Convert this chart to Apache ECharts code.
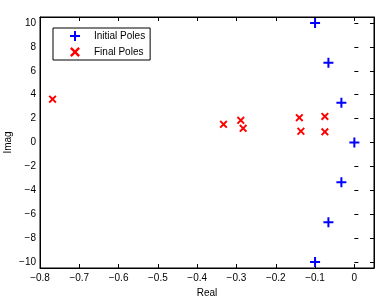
<!DOCTYPE html>
<html>
<head>
<meta charset="utf-8">
<script src="https://cdn.jsdelivr.net/npm/echarts@6/dist/echarts.min.js"></script>
<style>
  html, body { margin: 0; padding: 0; background: #fff; }
  #chart { width: 380px; height: 296px; }
</style>
</head>
<body>
<div id="chart"></div>
<script>
const initialReal = [-0.1, -0.066, -0.033, 0.0, -0.033, -0.066, -0.1]
const initialImag = [10, 6.67, 3.33, 0, -3.33, -6.67, -10]
const finalReal = [-0.768, -0.333, -0.289, -0.283, -0.14, -0.136, -0.075, -0.075]
const finalImag = [3.62, 1.52, 1.86, 1.19, 2.08, 0.94, 2.18, 0.89]
const xTicks = [-0.8, -0.7, -0.6, -0.5, -0.4, -0.3, -0.2, -0.1, 0]
const yTicks = [-10, -8, -6, -4, -2, 0, 2, 4, 6, 8, 10]

const plusPath = "path://M4,0H6V4H10V6H6V10H4V6H0V4H4Z"
const crossPath = "path://M0,1.7L1.7,0L5,3.3L8.3,0L10,1.7L6.7,5L10,8.3L8.3,10L5,6.7L1.7,10L0,8.3L3.3,5Z"
const font = "Liberation Sans"

// plot box and the y range the ticks span (data range is padded by 0.5)
const plotTop = 17, plotBottom = 28, yPad = 0.5
const pxPerUnit = (296 - plotTop - plotBottom) / (20 + 2 * yPad)

function fmtX(v) {
  const t = xTicks.find(k => Math.abs(k - v) < 1e-9)
  if (t === undefined) return ""
  return t === 0 ? "0" : String(t).replace("-", "\u2212")
}
function fmtY(v) {
  const t = yTicks.find(k => Math.abs(k - v) < 1e-9)
  if (t === undefined) return ""
  return String(t).replace("-", "\u2212")
}

const tick = { show: true, inside: true, length: 4, lineStyle: { color: "#000" } }
const line = { show: true, onZero: false, lineStyle: { color: "#000", width: 1 } }
const labelStyle = { fontFamily: font, fontSize: 10, color: "#000" }

const chart = echarts.init(document.getElementById("chart"))
chart.setOption({
  animation: false,
  backgroundColor: "#fff",
  grid: [
    { left: 40, right: 6, top: plotTop, bottom: plotBottom, show: true, borderColor: "#000", borderWidth: 1, outerBoundsMode: "none" },
    { left: 40, right: 6, top: plotTop + yPad * pxPerUnit, bottom: plotBottom + yPad * pxPerUnit, outerBoundsMode: "none" }
  ],
  legend: {
    orient: "vertical",
    left: 53,
    top: 28,
    borderColor: "#000",
    borderWidth: 1,
    borderRadius: 0,
    padding: [2, 5, 2, 17],
    itemGap: 4,
    itemWidth: 10,
    itemHeight: 10,
    textStyle: Object.assign({ lineHeight: 12, padding: [0, 0, 0, 9] }, labelStyle)
  },
  xAxis: [
    {
      type: "value", gridIndex: 0, min: -0.8, max: 0.05, interval: 0.1, position: "bottom",
      splitLine: { show: false }, axisLine: line, axisTick: tick,
      name: "Real", nameLocation: "middle", nameGap: 19,
      nameTextStyle: labelStyle,
      axisLabel: Object.assign({ margin: 5, formatter: fmtX, showMaxLabel: false }, labelStyle)
    },
    {
      type: "value", gridIndex: 0, min: -0.8, max: 0.05, interval: 0.1, position: "top",
      splitLine: { show: false }, axisLine: line, axisTick: tick, axisLabel: { show: false }
    },
    { type: "value", gridIndex: 1, min: -0.8, max: 0.05, show: false }
  ],
  yAxis: [
    {
      type: "value", gridIndex: 0, min: -10 - yPad, max: 10 + yPad, position: "left",
      splitLine: { show: false }, axisLine: line, axisTick: { show: false }, axisLabel: { show: false },
      name: "Imag", nameLocation: "middle", nameGap: 27,
      nameTextStyle: labelStyle
    },
    {
      type: "value", gridIndex: 0, min: -10 - yPad, max: 10 + yPad, position: "right",
      splitLine: { show: false }, axisLine: line, axisTick: { show: false }, axisLabel: { show: false }
    },
    {
      type: "value", gridIndex: 1, min: -10, max: 10, interval: 2, position: "left",
      splitLine: { show: false }, axisLine: { show: false }, axisTick: tick,
      axisLabel: Object.assign({ margin: 4, formatter: fmtY }, labelStyle)
    },
    {
      type: "value", gridIndex: 1, min: -10, max: 10, interval: 2, position: "right",
      splitLine: { show: false }, axisLine: { show: false }, axisTick: tick, axisLabel: { show: false }
    }
  ],
  series: [
    {
      name: "Initial Poles",
      type: "scatter",
      xAxisIndex: 0, yAxisIndex: 0,
      symbol: plusPath,
      symbolSize: 10,
      itemStyle: { color: "#0000ff", opacity: 1 },
      data: initialReal.map((x, i) => [x, initialImag[i]])
    },
    {
      name: "Final Poles",
      type: "scatter",
      xAxisIndex: 0, yAxisIndex: 0,
      symbol: crossPath,
      symbolSize: 8,
      itemStyle: { color: "#ff0000", opacity: 1 },
      data: finalReal.map((x, i) => [x, finalImag[i]])
    }
  ]
})
</script>
</body>
</html>
